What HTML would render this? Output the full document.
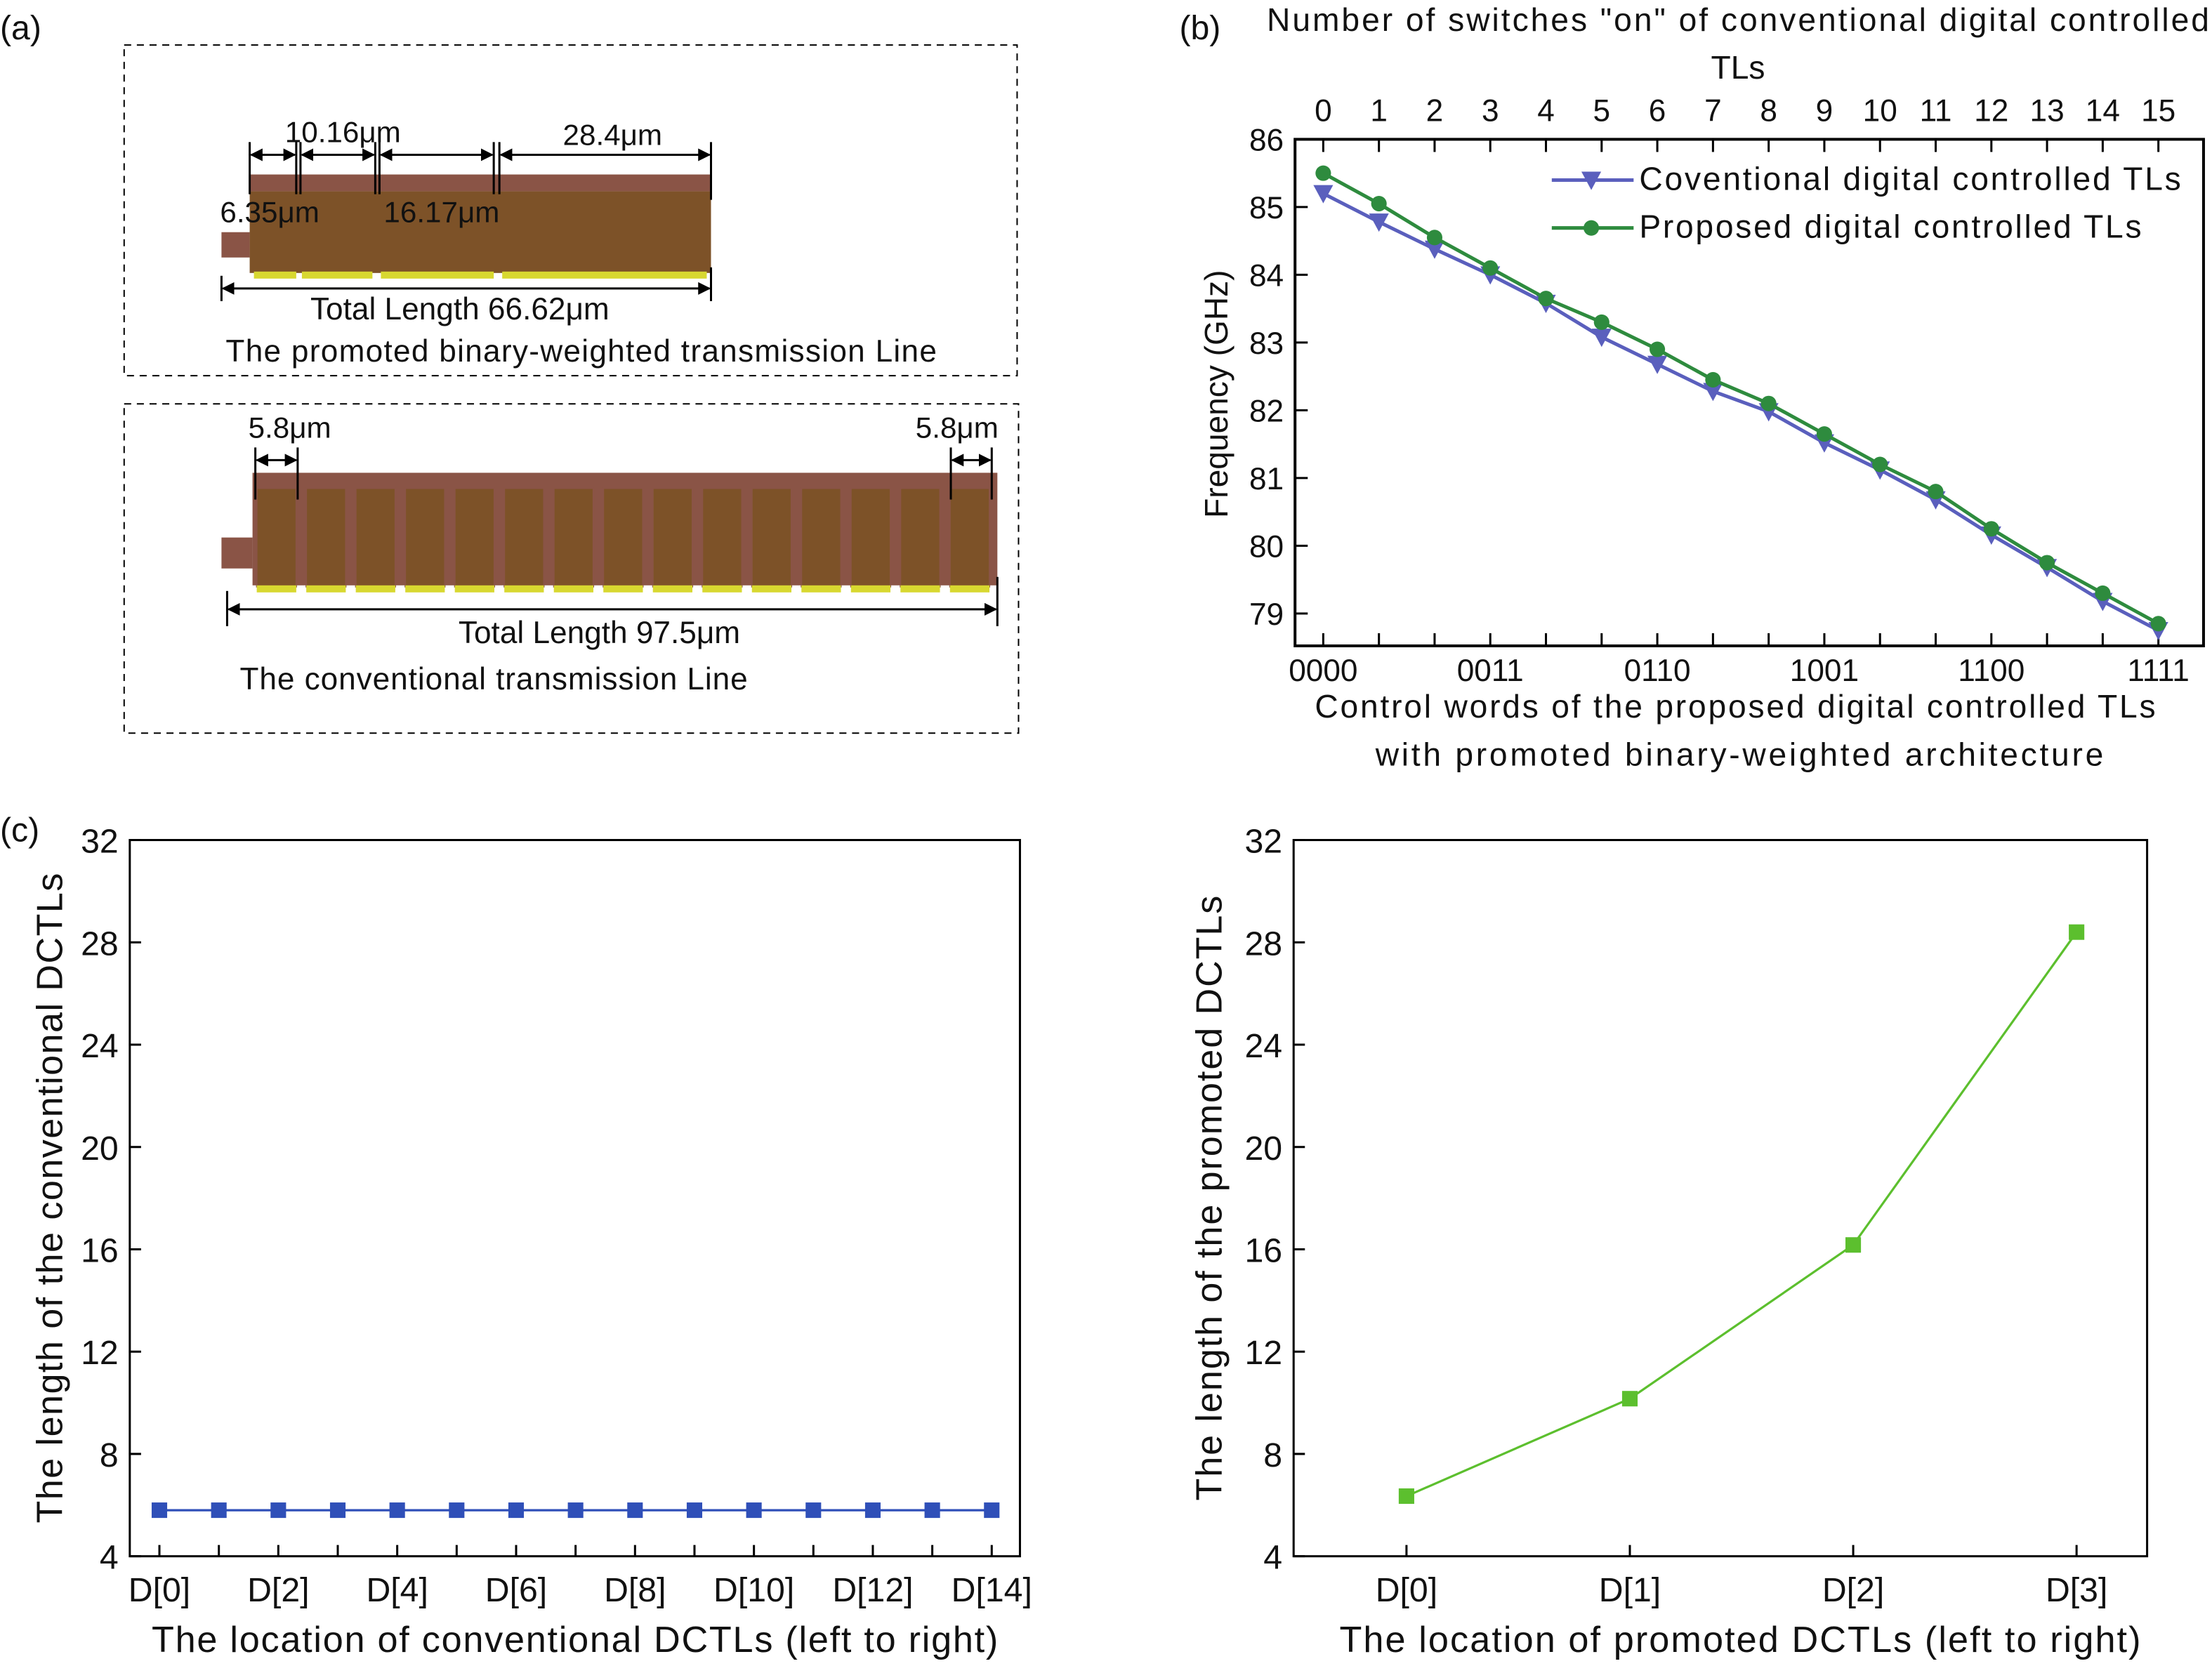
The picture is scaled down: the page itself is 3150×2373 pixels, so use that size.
<!DOCTYPE html>
<html><head><meta charset="utf-8"><style>
html,body{margin:0;padding:0;background:#fff}
svg{display:block}
text{font-family:"Liberation Sans",sans-serif;fill:#111}
</style></head><body>
<svg id="fig" width="3150" height="2373" viewBox="0 0 1568 1184" preserveAspectRatio="none">
<defs>
<marker id="ar" viewBox="0 0 10 10" refX="9" refY="5" markerWidth="6" markerHeight="6" orient="auto-start-reverse"><path d="M0,0L10,5L0,10z" fill="#000"/></marker>
</defs>
<text x="0" y="28" font-size="24">(a)</text>
<text x="836" y="28" font-size="24">(b)</text>
<text x="0" y="598" font-size="24">(c)</text>

<g>
<rect x="88" y="32" width="633" height="235" fill="none" stroke="#000" stroke-dasharray="5,4"/>
<rect x="157" y="165" width="20" height="18" fill="#8a5446"/>
<rect x="177" y="124" width="327" height="12" fill="#8a5446"/>
<rect x="177" y="136" width="327" height="58" fill="#7d5228"/>
<rect x="180" y="193" width="30" height="5" fill="#d8d830"/>
<rect x="214" y="193" width="50" height="5" fill="#d8d830"/>
<rect x="270" y="193" width="80" height="5" fill="#d8d830"/>
<rect x="356" y="193" width="145" height="5" fill="#d8d830"/>
<g stroke="#000" stroke-width="1.5">
<line x1="177" y1="101" x2="177" y2="138"/><line x1="210" y1="101" x2="210" y2="138"/><line x1="213" y1="101" x2="213" y2="138"/>
<line x1="266" y1="101" x2="266" y2="138"/><line x1="269" y1="101" x2="269" y2="138"/><line x1="350" y1="101" x2="350" y2="138"/><line x1="354" y1="101" x2="354" y2="138"/><line x1="504" y1="101" x2="504" y2="142"/>
<line x1="178" y1="110" x2="209" y2="110" marker-start="url(#ar)" marker-end="url(#ar)"/>
<line x1="214" y1="110" x2="265" y2="110" marker-start="url(#ar)" marker-end="url(#ar)"/>
<line x1="270" y1="110" x2="349" y2="110" marker-start="url(#ar)" marker-end="url(#ar)"/>
<line x1="355" y1="110" x2="503" y2="110" marker-start="url(#ar)" marker-end="url(#ar)"/>
<line x1="157" y1="196" x2="157" y2="214"/><line x1="504" y1="190" x2="504" y2="214"/>
<line x1="158" y1="205" x2="503" y2="205" marker-start="url(#ar)" marker-end="url(#ar)"/>
</g>
<text x="202" y="101" font-size="21">10.16μm</text>
<text x="399" y="103" font-size="21">28.4μm</text>
<text x="156" y="158" font-size="21">6.35μm</text>
<text x="272" y="158" font-size="21">16.17μm</text>
<text x="220" y="227" font-size="22">Total Length 66.62μm</text>
<text x="160" y="257" font-size="22" textLength="504">The promoted binary-weighted transmission Line</text>
</g>
<g>
<rect x="88" y="287" width="634" height="234" fill="none" stroke="#000" stroke-dasharray="5,4"/>
<rect x="157" y="382" width="22" height="22" fill="#8a5446"/>
<rect x="179" y="336" width="528" height="80" fill="#8a5446"/>
<g id="cells"></g>
<g stroke="#000" stroke-width="1.5">
<line x1="181" y1="318" x2="181" y2="355"/><line x1="211" y1="318" x2="211" y2="355"/>
<line x1="182" y1="327" x2="210" y2="327" marker-start="url(#ar)" marker-end="url(#ar)"/>
<line x1="674" y1="318" x2="674" y2="355"/><line x1="703" y1="318" x2="703" y2="355"/>
<line x1="675" y1="327" x2="702" y2="327" marker-start="url(#ar)" marker-end="url(#ar)"/>
<line x1="161" y1="420" x2="161" y2="445"/><line x1="707" y1="410" x2="707" y2="445"/>
<line x1="162" y1="433" x2="706" y2="433" marker-start="url(#ar)" marker-end="url(#ar)"/>
</g>
<text x="176" y="311" font-size="21">5.8μm</text>
<text x="649" y="311" font-size="21">5.8μm</text>
<text x="325" y="457" font-size="22">Total Length 97.5μm</text>
<text x="170" y="490" font-size="22" textLength="360">The conventional transmission Line</text>
</g>

<g id="chartB"></g>
<g id="chartC1"></g>
<g id="chartC2"></g>
</svg>
<script>
const NS='http://www.w3.org/2000/svg';
function mk(p,t,a,txt){const e=document.createElementNS(NS,t);for(const k in a)e.setAttribute(k,a[k]);if(txt!==undefined)e.textContent=txt;p.appendChild(e);return e;}

const cells=document.getElementById('cells');
for(let i=0;i<15;i++){const x=182+i*35.1;
 mk(cells,'rect',{x:x,y:347,width:28,height:70,fill:'#7d5228',stroke:'#8a5446'});
 mk(cells,'rect',{x:x,y:416,width:28,height:5,fill:'#d8d830'});}

// ---- panel b data ----
const bTopLabels=['0','1','2','3','4','5','6','7','8','9','10','11','12','13','14','15'];
const bBottomLabels=['0000','0011','0110','1001','1100','1111'];
const bBottomIdx=[0,3,6,9,12,15];
const bYTicks=[79,80,81,82,83,84,85,86];
const bConv=[85.2,84.78,84.38,84.0,83.58,83.08,82.68,82.28,81.98,81.52,81.12,80.68,80.16,79.68,79.18,78.75];
const bProp=[85.5,85.05,84.55,84.1,83.65,83.3,82.9,82.45,82.1,81.65,81.2,80.8,80.25,79.75,79.3,78.85];

const gB=document.getElementById('chartB');
const bx=i=>938+i*(1530-938)/15, by=v=>99+(86-v)*(436-99)/7;
mk(gB,'rect',{x:918,y:99,width:644,height:360,fill:'none',stroke:'#000','stroke-width':2});
bTopLabels.forEach((l,i)=>{mk(gB,'line',{x1:bx(i),y1:99,x2:bx(i),y2:108,stroke:'#000','stroke-width':1.5});
 mk(gB,'line',{x1:bx(i),y1:459,x2:bx(i),y2:450,stroke:'#000','stroke-width':1.5});
 const t=mk(gB,'text',{x:bx(i),y:86,'font-size':22,'text-anchor':'middle'},l);});
bBottomLabels.forEach((l,k)=>{const t=mk(gB,'text',{x:bx(bBottomIdx[k]),y:484,'font-size':22,'text-anchor':'middle'},l);
 });
bYTicks.forEach(v=>{mk(gB,'line',{x1:918,y1:by(v),x2:927,y2:by(v),stroke:'#000','stroke-width':1.5});
 const t=mk(gB,'text',{x:910,y:by(v)+8,'font-size':22,'text-anchor':'end'},v);});
mk(gB,'text',{x:1232,y:22,'font-size':23,'text-anchor':'middle',textLength:668},'Number of switches "on" of conventional digital controlled');
mk(gB,'text',{x:1232,y:56,'font-size':23,'text-anchor':'middle'},'TLs');
mk(gB,'text',{x:1230,y:510,'font-size':23,'text-anchor':'middle',textLength:596},'Control words of the proposed digital controlled TLs');
mk(gB,'text',{x:1233,y:544,'font-size':23,'text-anchor':'middle',textLength:516},'with promoted  binary-weighted architecture');
const yt=mk(gB,'text',{x:870,y:280,'font-size':23,'text-anchor':'middle',transform:'rotate(-90 870 280)'},'Frequency (GHz)');

function series(g,data,col,shape){
 const l=mk(g,'polyline',{points:data.map((v,i)=>bx(i)+','+by(v)).join(' '),fill:'none',stroke:col,'stroke-width':2.5});
 
 data.forEach((v,i)=>{const x=bx(i),y=by(v);let m;
  if(shape==='tri')m=mk(g,'path',{d:`M${x-7},${y-6}L${x+7},${y-6}L${x},${y+7}z`,fill:col});
  else m=mk(g,'circle',{cx:x,cy:y,r:5.5,fill:col});
  });
}
series(gB,bConv,'#5a5fbd','tri');
series(gB,bProp,'#2e8b3e','circ');
mk(gB,'line',{x1:1100,y1:128,x2:1158,y2:128,stroke:'#5a5fbd','stroke-width':2.5});
mk(gB,'path',{d:'M1121,122L1135,122L1128,135z',fill:'#5a5fbd'});
mk(gB,'text',{x:1162,y:135,'font-size':23,textLength:384},'Coventional digital controlled TLs');
mk(gB,'line',{x1:1100,y1:162,x2:1158,y2:162,stroke:'#2e8b3e','stroke-width':2.5});
mk(gB,'circle',{cx:1128,cy:162,r:5.5,fill:'#2e8b3e'});
mk(gB,'text',{x:1162,y:169,'font-size':23,textLength:356},'Proposed digital controlled TLs');

// ---- panel c data ----
const cYTicks=[4,8,12,16,20,24,28,32];
const c1Labels=['D[0]','D[2]','D[4]','D[6]','D[8]','D[10]','D[12]','D[14]'];
const c1Values=[5.8,5.8,5.8,5.8,5.8,5.8,5.8,5.8,5.8,5.8,5.8,5.8,5.8,5.8,5.8];
const c2Labels=['D[0]','D[1]','D[2]','D[3]'];
const c2Values=[6.35,10.16,16.17,28.4];

const cy=v=>597+(32-v)*(1106-597)/28;
function lenChart(g,x0,x1,xs,xFirst,xStep,labels,labelEvery,vals,col,title,xtitle,tx,tlen,xlen){
 const cx=i=>xFirst+i*xStep;
 mk(g,'rect',{x:x0,y:597,width:x1-x0,height:509,fill:'none',stroke:'#000','stroke-width':1.5});
 cYTicks.forEach(v=>{mk(g,'line',{x1:x0,y1:cy(v),x2:x0+8,y2:cy(v),stroke:'#000','stroke-width':1.5});
  const t=mk(g,'text',{x:x0-8,y:cy(v)+9,'font-size':24,'text-anchor':'end'},v);});
 vals.forEach((v,i)=>mk(g,'line',{x1:cx(i),y1:1106,x2:cx(i),y2:1098,stroke:'#000','stroke-width':1.5}));
 labels.forEach((l,k)=>{const t=mk(g,'text',{x:cx(k*labelEvery),y:1138,'font-size':24,'text-anchor':'middle'},l);});
 const pl=mk(g,'polyline',{points:vals.map((v,i)=>cx(i)+','+cy(v)).join(' '),fill:'none',stroke:col,'stroke-width':1.6});
 
 vals.forEach((v,i)=>{const r=mk(g,'rect',{x:cx(i)-5.5,y:cy(v)-5.5,width:11,height:11,fill:col});});
 const ty=(597+1106)/2;
 const t=mk(g,'text',{x:tx,y:ty,'font-size':26,'text-anchor':'middle',textLength:tlen,transform:`rotate(-90 ${tx} ${ty})`},title);
 const t2=mk(g,'text',{x:(x0+x1)/2+xs,y:1174,'font-size':26,'text-anchor':'middle',textLength:xlen},xtitle);
}
lenChart(document.getElementById('chartC1'),92,723,0,113,(703-113)/14,c1Labels,2,c1Values,'#2f4fb8','The length of the conventional DCTLs','The location of conventional DCTLs (left to right)',44,462,600);
lenChart(document.getElementById('chartC2'),917,1522,14,997,(1472-997)/3,c2Labels,1,c2Values,'#5cbf2e','The length of the promoted DCTLs','The location of promoted  DCTLs (left to right)',866,430,568);
</script>
</body></html>
